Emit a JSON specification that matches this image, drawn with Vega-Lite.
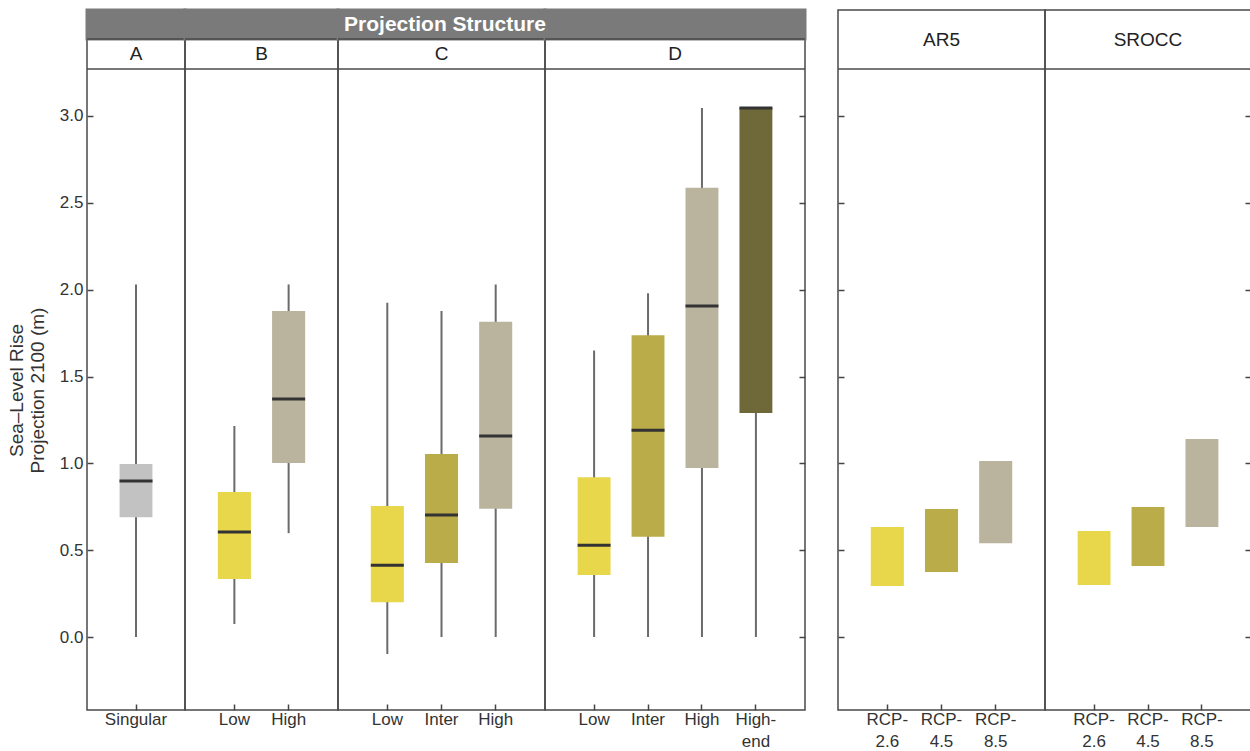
{
  "$schema": "https://vega.github.io/schema/vega-lite/v6.json",
  "padding": {"left": 6, "top": 7, "right": 0, "bottom": 0},
  "config": {
    "font": "Liberation Sans",
    "view": {"stroke": "#4a4a4a", "strokeWidth": 1.5},
    "axis": {"labelFont": "Liberation Sans", "titleFont": "Liberation Sans"}
  },
  "datasets": {
    "slr": [
      {"panel": "A", "cat": "Singular", "level": "singular", "lo": 0, "q1": 0.69, "med": 0.898, "q3": 0.996, "hi": 2.03},
      {"panel": "B", "cat": "Low", "level": "low", "lo": 0.075, "q1": 0.334, "med": 0.605, "q3": 0.835, "hi": 1.215},
      {"panel": "B", "cat": "High", "level": "high", "lo": 0.598, "q1": 1.002, "med": 1.37, "q3": 1.877, "hi": 2.03},
      {"panel": "C", "cat": "Low", "level": "low", "lo": -0.098, "q1": 0.2, "med": 0.414, "q3": 0.754, "hi": 1.925},
      {"panel": "C", "cat": "Inter", "level": "inter", "lo": 0, "q1": 0.427, "med": 0.703, "q3": 1.054, "hi": 1.877},
      {"panel": "C", "cat": "High", "level": "high", "lo": 0, "q1": 0.738, "med": 1.157, "q3": 1.815, "hi": 2.03},
      {"panel": "D", "cat": "Low", "level": "low", "lo": 0, "q1": 0.357, "med": 0.529, "q3": 0.92, "hi": 1.65},
      {"panel": "D", "cat": "Inter", "level": "inter", "lo": 0, "q1": 0.577, "med": 1.19, "q3": 1.738, "hi": 1.98},
      {"panel": "D", "cat": "High", "level": "high", "lo": 0, "q1": 0.973, "med": 1.906, "q3": 2.586, "hi": 3.046},
      {"panel": "D", "cat": "High-end", "level": "highend", "lo": 0, "q1": 1.29, "med": 3.046, "q3": 3.046, "hi": 3.046},
      {"panel": "AR5", "cat": "RCP-2.6", "level": "low", "q1": 0.294, "q3": 0.633},
      {"panel": "AR5", "cat": "RCP-4.5", "level": "inter", "q1": 0.375, "q3": 0.737},
      {"panel": "AR5", "cat": "RCP-8.5", "level": "high", "q1": 0.54, "q3": 1.013},
      {"panel": "SROCC", "cat": "RCP-2.6", "level": "low", "q1": 0.3, "q3": 0.61},
      {"panel": "SROCC", "cat": "RCP-4.5", "level": "inter", "q1": 0.409, "q3": 0.749},
      {"panel": "SROCC", "cat": "RCP-8.5", "level": "high", "q1": 0.634, "q3": 1.14}
    ],
    "headers": [
      {"panel": "A", "label": "A"},
      {"panel": "B", "label": "B"},
      {"panel": "C", "label": "C"},
      {"panel": "D", "label": "D"},
      {"panel": "AR5", "label": "AR5"},
      {"panel": "SROCC", "label": "SROCC"},
      {"panel": "banner", "label": "Projection Structure"}
    ]
  },
  "spacing": 28,
  "resolve": {"scale": {"x": "independent", "y": "independent"}},
  "hconcat": [
    {
      "spacing": 0,
      "bounds": "flush",
      "resolve": {"scale": {"x": "independent", "y": "independent"}},
      "hconcat": [
        {
          "width": 98, "height": 700,
          "data": {"name": "slr"},
          "transform": [{"filter": "datum.panel === 'A'"}],
          "layer": [
            {"mark": {"type": "rule", "color": "#6b6b6b", "strokeWidth": 2},
             "encoding": {
               "x": {"field": "cat", "type": "nominal", "sort": null, "scale": {"paddingInner": 0.39, "paddingOuter": 0.605},
                     "axis": {"title": null, "domain": false, "offset": -6, "tickSize": 6, "tickWidth": 1.5, "tickColor": "#444", "labelAngle": 0, "labelFontSize": 17, "labelColor": "#333", "labelPadding": 1, "labelLineHeight": 22, "labelExpr": "indexof(datum.value, '-') > 0 ? [slice(datum.value, 0, indexof(datum.value, '-') + 1), slice(datum.value, indexof(datum.value, '-') + 1)] : datum.value"}},
               "y": {"field": "lo", "type": "quantitative", "scale": {"domain": [-0.42, 3.61], "nice": false, "zero": false},
                     "axis": {"orient": "left", "offset": -6, "tickSize": 6, "tickWidth": 1.5, "tickColor": "#444", "domain": false, "grid": false, "values": [0, 0.5, 1, 1.5, 2, 2.5, 3], "format": ".1f", "labelFontSize": 17, "labelColor": "#333", "labelPadding": 4, "title": ["Sea–Level Rise", "Projection 2100 (m)"], "titleFontSize": 19, "titleFontWeight": "normal", "titleColor": "#333", "titlePadding": 12, "titleY": 380}},
               "y2": {"field": "hi"}}},
            {"mark": {"type": "bar"},
             "encoding": {
               "x": {"field": "cat", "type": "nominal", "sort": null},
               "y": {"field": "q1", "type": "quantitative"},
               "y2": {"field": "q3"},
               "color": {"field": "level", "type": "nominal", "legend": null, "scale": {"domain": ["singular", "low", "inter", "high", "highend"], "range": ["#c2c2c2", "#e8d64b", "#baac48", "#bab49f", "#6f6939"]}}}},
            {"mark": {"type": "tick", "thickness": 3, "size": 33, "color": "#333333", "opacity": 1},
             "encoding": {
               "x": {"field": "cat", "type": "nominal", "sort": null},
               "y": {"field": "med", "type": "quantitative"}}},
            {"data": {"name": "headers"},
             "transform": [{"filter": "datum.panel === 'A'"}],
             "layer": [
               {"mark": {"type": "rect", "fill": "#7a7a7a", "stroke": "#7a7a7a", "strokeWidth": 3}, "encoding": {"y": {"datum": 3.443}, "y2": {"datum": 3.61}}},
               {"mark": {"type": "rule", "color": "#4a4a4a", "strokeWidth": 1.5}, "encoding": {"y": {"datum": 3.27}}},
               {"mark": {"type": "rule", "color": "#4a4a4a", "strokeWidth": 1.5}, "encoding": {"y": {"datum": 3.443}}},
               {"mark": {"type": "text", "fontSize": 19, "color": "#222", "baseline": "middle"}, "encoding": {"y": {"datum": 3.3565}, "text": {"field": "label"}}}
             ]}
          ]
        },
        {
          "width": 153, "height": 700,
          "data": {"name": "slr"},
          "transform": [{"filter": "datum.panel === 'B'"}],
          "layer": [
            {"mark": {"type": "rule", "color": "#6b6b6b", "strokeWidth": 2},
             "encoding": {
               "x": {"field": "cat", "type": "nominal", "sort": null, "scale": {"paddingInner": 0.39, "paddingOuter": 0.605},
                     "axis": {"title": null, "domain": false, "offset": -6, "tickSize": 6, "tickWidth": 1.5, "tickColor": "#444", "labelAngle": 0, "labelFontSize": 17, "labelColor": "#333", "labelPadding": 1, "labelLineHeight": 22, "labelExpr": "indexof(datum.value, '-') > 0 ? [slice(datum.value, 0, indexof(datum.value, '-') + 1), slice(datum.value, indexof(datum.value, '-') + 1)] : datum.value"}},
               "y": {"field": "lo", "type": "quantitative", "scale": {"domain": [-0.42, 3.61], "nice": false, "zero": false}, "axis": null},
               "y2": {"field": "hi"}}},
            {"mark": {"type": "bar"},
             "encoding": {
               "x": {"field": "cat", "type": "nominal", "sort": null},
               "y": {"field": "q1", "type": "quantitative", "axis": null},
               "y2": {"field": "q3"},
               "color": {"field": "level", "type": "nominal", "legend": null, "scale": {"domain": ["singular", "low", "inter", "high", "highend"], "range": ["#c2c2c2", "#e8d64b", "#baac48", "#bab49f", "#6f6939"]}}}},
            {"mark": {"type": "tick", "thickness": 3, "size": 33, "color": "#333333", "opacity": 1},
             "encoding": {
               "x": {"field": "cat", "type": "nominal", "sort": null},
               "y": {"field": "med", "type": "quantitative", "axis": null}}},
            {"data": {"name": "headers"},
             "transform": [{"filter": "datum.panel === 'B'"}],
             "layer": [
               {"mark": {"type": "rect", "fill": "#7a7a7a", "stroke": "#7a7a7a", "strokeWidth": 3}, "encoding": {"y": {"datum": 3.443, "axis": null}, "y2": {"datum": 3.61}}},
               {"mark": {"type": "rule", "color": "#4a4a4a", "strokeWidth": 1.5}, "encoding": {"y": {"datum": 3.27, "axis": null}}},
               {"mark": {"type": "rule", "color": "#4a4a4a", "strokeWidth": 1.5}, "encoding": {"y": {"datum": 3.443, "axis": null}}},
               {"mark": {"type": "text", "fontSize": 19, "color": "#222", "baseline": "middle"}, "encoding": {"y": {"datum": 3.3565, "axis": null}, "text": {"field": "label"}}}
             ]}
          ]
        },
        {
          "width": 207, "height": 700,
          "data": {"name": "slr"},
          "transform": [{"filter": "datum.panel === 'C'"}],
          "layer": [
            {"mark": {"type": "rule", "color": "#6b6b6b", "strokeWidth": 2},
             "encoding": {
               "x": {"field": "cat", "type": "nominal", "sort": null, "scale": {"paddingInner": 0.39, "paddingOuter": 0.605},
                     "axis": {"title": null, "domain": false, "offset": -6, "tickSize": 6, "tickWidth": 1.5, "tickColor": "#444", "labelAngle": 0, "labelFontSize": 17, "labelColor": "#333", "labelPadding": 1, "labelLineHeight": 22, "labelExpr": "indexof(datum.value, '-') > 0 ? [slice(datum.value, 0, indexof(datum.value, '-') + 1), slice(datum.value, indexof(datum.value, '-') + 1)] : datum.value"}},
               "y": {"field": "lo", "type": "quantitative", "scale": {"domain": [-0.42, 3.61], "nice": false, "zero": false}, "axis": null},
               "y2": {"field": "hi"}}},
            {"mark": {"type": "bar"},
             "encoding": {
               "x": {"field": "cat", "type": "nominal", "sort": null},
               "y": {"field": "q1", "type": "quantitative", "axis": null},
               "y2": {"field": "q3"},
               "color": {"field": "level", "type": "nominal", "legend": null, "scale": {"domain": ["singular", "low", "inter", "high", "highend"], "range": ["#c2c2c2", "#e8d64b", "#baac48", "#bab49f", "#6f6939"]}}}},
            {"mark": {"type": "tick", "thickness": 3, "size": 33, "color": "#333333", "opacity": 1},
             "encoding": {
               "x": {"field": "cat", "type": "nominal", "sort": null},
               "y": {"field": "med", "type": "quantitative", "axis": null}}},
            {"data": {"name": "headers"},
             "transform": [{"filter": "datum.panel === 'C'"}],
             "layer": [
               {"mark": {"type": "rect", "fill": "#7a7a7a", "stroke": "#7a7a7a", "strokeWidth": 3}, "encoding": {"y": {"datum": 3.443, "axis": null}, "y2": {"datum": 3.61}}},
               {"mark": {"type": "rule", "color": "#4a4a4a", "strokeWidth": 1.5}, "encoding": {"y": {"datum": 3.27, "axis": null}}},
               {"mark": {"type": "rule", "color": "#4a4a4a", "strokeWidth": 1.5}, "encoding": {"y": {"datum": 3.443, "axis": null}}},
               {"mark": {"type": "text", "fontSize": 19, "color": "#222", "baseline": "middle"}, "encoding": {"y": {"datum": 3.3565, "axis": null}, "text": {"field": "label"}}}
             ]}
          ]
        },
        {
          "width": 260, "height": 700,
          "data": {"name": "slr"},
          "transform": [{"filter": "datum.panel === 'D'"}],
          "layer": [
            {"mark": {"type": "rule", "color": "#6b6b6b", "strokeWidth": 2},
             "encoding": {
               "x": {"field": "cat", "type": "nominal", "sort": null, "scale": {"paddingInner": 0.39, "paddingOuter": 0.605},
                     "axis": {"title": null, "domain": false, "offset": -6, "tickSize": 6, "tickWidth": 1.5, "tickColor": "#444", "labelAngle": 0, "labelFontSize": 17, "labelColor": "#333", "labelPadding": 1, "labelLineHeight": 22, "labelExpr": "indexof(datum.value, '-') > 0 ? [slice(datum.value, 0, indexof(datum.value, '-') + 1), slice(datum.value, indexof(datum.value, '-') + 1)] : datum.value"}},
               "y": {"field": "lo", "type": "quantitative", "scale": {"domain": [-0.42, 3.61], "nice": false, "zero": false},
                     "axis": {"orient": "right", "offset": -6, "tickSize": 6, "tickWidth": 1.5, "tickColor": "#444", "domain": false, "grid": false, "values": [0, 0.5, 1, 1.5, 2, 2.5, 3], "labels": false, "title": null}},
               "y2": {"field": "hi"}}},
            {"mark": {"type": "bar"},
             "encoding": {
               "x": {"field": "cat", "type": "nominal", "sort": null},
               "y": {"field": "q1", "type": "quantitative"},
               "y2": {"field": "q3"},
               "color": {"field": "level", "type": "nominal", "legend": null, "scale": {"domain": ["singular", "low", "inter", "high", "highend"], "range": ["#c2c2c2", "#e8d64b", "#baac48", "#bab49f", "#6f6939"]}}}},
            {"mark": {"type": "tick", "thickness": 3, "size": 33, "color": "#333333", "opacity": 1},
             "encoding": {
               "x": {"field": "cat", "type": "nominal", "sort": null},
               "y": {"field": "med", "type": "quantitative"}}},
            {"data": {"name": "headers"},
             "transform": [{"filter": "datum.panel === 'D'"}],
             "layer": [
               {"mark": {"type": "rect", "fill": "#7a7a7a", "stroke": "#7a7a7a", "strokeWidth": 3}, "encoding": {"y": {"datum": 3.443}, "y2": {"datum": 3.61}}},
               {"mark": {"type": "rule", "color": "#4a4a4a", "strokeWidth": 1.5}, "encoding": {"y": {"datum": 3.27}}},
               {"mark": {"type": "rule", "color": "#4a4a4a", "strokeWidth": 1.5}, "encoding": {"y": {"datum": 3.443}}},
               {"mark": {"type": "text", "fontSize": 19, "color": "#222", "baseline": "middle"}, "encoding": {"y": {"datum": 3.3565}, "text": {"field": "label"}}}
             ]},
            {"data": {"name": "headers"},
             "transform": [{"filter": "datum.panel === 'banner'"}],
             "mark": {"type": "text", "fontSize": 21, "fontWeight": "bold", "color": "#ffffff", "baseline": "middle", "dx": -230},
             "encoding": {"y": {"datum": 3.5265}, "text": {"field": "label"}}}
          ]
        }
      ]
    },
    {
      "spacing": 0,
      "bounds": "flush",
      "resolve": {"scale": {"x": "independent", "y": "independent"}},
      "hconcat": [
        {
          "width": 207, "height": 700,
          "data": {"name": "slr"},
          "transform": [{"filter": "datum.panel === 'AR5'"}],
          "layer": [
            {"mark": {"type": "bar"},
             "encoding": {
               "x": {"field": "cat", "type": "nominal", "sort": null, "scale": {"paddingInner": 0.39, "paddingOuter": 0.605},
                     "axis": {"title": null, "domain": false, "offset": -6, "tickSize": 6, "tickWidth": 1.5, "tickColor": "#444", "labelAngle": 0, "labelFontSize": 17, "labelColor": "#333", "labelPadding": 1, "labelLineHeight": 22, "labelExpr": "indexof(datum.value, '-') > 0 ? [slice(datum.value, 0, indexof(datum.value, '-') + 1), slice(datum.value, indexof(datum.value, '-') + 1)] : datum.value"}},
               "y": {"field": "q1", "type": "quantitative", "scale": {"domain": [-0.42, 3.61], "nice": false, "zero": false},
                     "axis": {"orient": "left", "offset": -6, "tickSize": 6, "tickWidth": 1.5, "tickColor": "#444", "domain": false, "grid": false, "values": [0, 0.5, 1, 1.5, 2, 2.5, 3], "labels": false, "title": null}},
               "y2": {"field": "q3"},
               "color": {"field": "level", "type": "nominal", "legend": null, "scale": {"domain": ["singular", "low", "inter", "high", "highend"], "range": ["#c2c2c2", "#e8d64b", "#baac48", "#bab49f", "#6f6939"]}}}},
            {"data": {"name": "headers"},
             "transform": [{"filter": "datum.panel === 'AR5'"}],
             "layer": [
               {"mark": {"type": "rule", "color": "#4a4a4a", "strokeWidth": 1.5}, "encoding": {"y": {"datum": 3.27}}},
               {"mark": {"type": "text", "fontSize": 19, "color": "#222", "baseline": "middle"}, "encoding": {"y": {"datum": 3.44}, "text": {"field": "label"}}}
             ]}
          ]
        },
        {
          "width": 206, "height": 700,
          "data": {"name": "slr"},
          "transform": [{"filter": "datum.panel === 'SROCC'"}],
          "layer": [
            {"mark": {"type": "bar"},
             "encoding": {
               "x": {"field": "cat", "type": "nominal", "sort": null, "scale": {"paddingInner": 0.39, "paddingOuter": 0.605},
                     "axis": {"title": null, "domain": false, "offset": -6, "tickSize": 6, "tickWidth": 1.5, "tickColor": "#444", "labelAngle": 0, "labelFontSize": 17, "labelColor": "#333", "labelPadding": 1, "labelLineHeight": 22, "labelExpr": "indexof(datum.value, '-') > 0 ? [slice(datum.value, 0, indexof(datum.value, '-') + 1), slice(datum.value, indexof(datum.value, '-') + 1)] : datum.value"}},
               "y": {"field": "q1", "type": "quantitative", "scale": {"domain": [-0.42, 3.61], "nice": false, "zero": false},
                     "axis": {"orient": "right", "offset": -6, "tickSize": 6, "tickWidth": 1.5, "tickColor": "#444", "domain": false, "grid": false, "values": [0, 0.5, 1, 1.5, 2, 2.5, 3], "labels": false, "title": null}},
               "y2": {"field": "q3"},
               "color": {"field": "level", "type": "nominal", "legend": null, "scale": {"domain": ["singular", "low", "inter", "high", "highend"], "range": ["#c2c2c2", "#e8d64b", "#baac48", "#bab49f", "#6f6939"]}}}},
            {"data": {"name": "headers"},
             "transform": [{"filter": "datum.panel === 'SROCC'"}],
             "layer": [
               {"mark": {"type": "rule", "color": "#4a4a4a", "strokeWidth": 1.5}, "encoding": {"y": {"datum": 3.27}}},
               {"mark": {"type": "text", "fontSize": 19, "color": "#222", "baseline": "middle"}, "encoding": {"y": {"datum": 3.44}, "text": {"field": "label"}}}
             ]}
          ]
        }
      ]
    }
  ]
}
